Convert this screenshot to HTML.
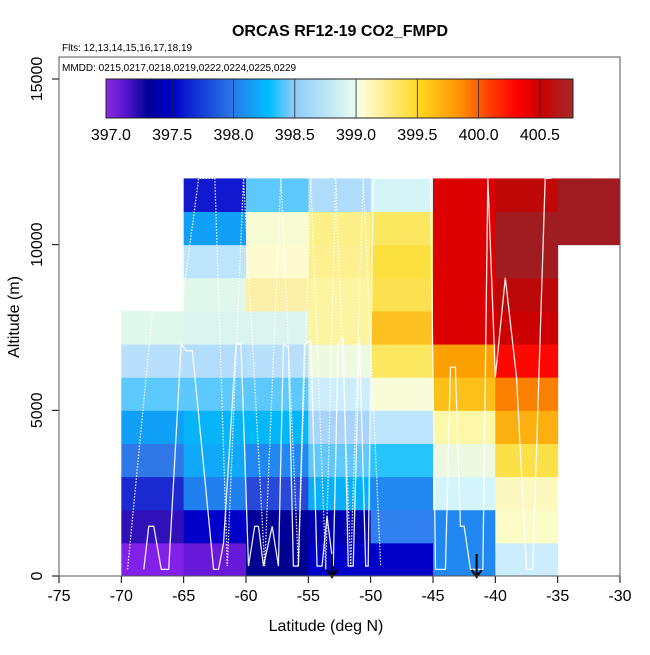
<!DOCTYPE html>
<html><head><meta charset="utf-8"><style>
body{margin:0;background:#fff}
svg text{font-family:"Liberation Sans",sans-serif}
</style></head><body>
<svg id="c" width="650" height="650" xmlns="http://www.w3.org/2000/svg">
<defs>
<linearGradient id="cb" x1="0" x2="1" y1="0" y2="0">
<stop offset="0" stop-color="#8a2be2"/>
<stop offset="0.04" stop-color="#5a18d0"/>
<stop offset="0.09" stop-color="#000098"/>
<stop offset="0.14" stop-color="#0000c8"/>
<stop offset="0.27" stop-color="#2a78e8"/>
<stop offset="0.35" stop-color="#00bfff"/>
<stop offset="0.40" stop-color="#8ccafc"/>
<stop offset="0.53" stop-color="#e4fbf0"/>
<stop offset="0.55" stop-color="#fffcd8"/>
<stop offset="0.67" stop-color="#ffd820"/>
<stop offset="0.76" stop-color="#ff9000"/>
<stop offset="0.82" stop-color="#ff4000"/>
<stop offset="0.88" stop-color="#ff0000"/>
<stop offset="0.93" stop-color="#cc0000"/>
<stop offset="1" stop-color="#a52a2a"/>
</linearGradient>
</defs>
<text x="340" y="36" font-size="16" font-weight="bold" text-anchor="middle">ORCAS RF12-19 CO2_FMPD</text>
<text x="62" y="51" font-size="10">Flts: 12,13,14,15,16,17,18,19</text>
<g id="plot"></g>
<rect x="59" y="57" width="561" height="519" fill="none" stroke="#555"/>
<text x="62" y="71" font-size="10">MMDD: 0215,0217,0218,0219,0222,0224,0225,0229</text>
<rect x="106" y="79" width="467" height="39" fill="url(#cb)" stroke="#222"/>
<g id="cbt"></g>
<text x="326" y="631" font-size="16" text-anchor="middle">Latitude (deg N)</text>
<text transform="translate(19,317) rotate(-90)" font-size="16" text-anchor="middle">Altitude (m)</text>
</svg>
<script>
const lats=[-70,-65,-60,-55,-50,-45,-40,-35];
const altBins=[0,1000,2000,3000,4000,5000,6000,7000,8000,9000,10000,11000];
const cellColors=[
["#8020e8","#3010b8","#1a2ad0","#3078e8","#10a0f8","#5cc8fc","#b8e0fc","#e0f8ec",null,null,null,null],
["#6818d8","#0000c8","#2080f0","#10a8f8","#08b4f8","#5cc8fc","#b4dcfc","#dcf4f0","#e0f8ec","#bce4fc","#10a0f8","#1018d0"],
["#000090","#000098","#2848d8","#2088f0","#00b8f8","#5cc8fc","#b8e0fc","#dcf4f0","#fcf0a8","#fcfcd0","#f8fcd4","#5cc8fc"],
["#0000c8","#0000b0","#08b0f8","#60c8fc","#a8d4fc","#cceefc","#eefae0","#fcf4a0","#fcf4a0","#fcf090","#fcf088","#b0dcfc"],
["#0000c8","#3080f0","#2088f0","#28c4fc","#bce4fc","#f8fcd8","#fce860","#fcc020","#fce050","#fce040","#fce860","#d4f4f8"],
["#2088f0","#2088f0","#d4f4fc","#ecf8e0","#fcf8a8","#fcc018","#fca000","#dc0000","#dc0000","#dc0000","#dc0000","#dc0000"],
["#cceefc","#fcfcc8","#fcf8c0","#fce048","#fcb010","#fc8000","#fc0800","#cc0000","#bc0808","#a01c20","#a01c20","#c00808"],
[null,null,null,null,null,null,null,null,null,null,"#a01c20","#a01c20"]];
const xTicks=[-75,-70,-65,-60,-55,-50,-45,-40,-35,-30];
const yTicks=[0,5000,10000,15000];
const cbTicks=[397.0,397.5,398.0,398.5,399.0,399.5,400.0,400.5];
const trackLat=[-68.2,-67.8,-67.4,-66.8,-66.2,-65.2,-64.8,-64.3,-62.6,-62.2,-61.8,-60.8,-60.4,-59.8,-59.3,-59,-58.6,-57.9,-57.4,-57,-56.6,-56.2,-55.8,-55.3,-54.8,-54.3,-53.9,-53.5,-53,-52.6,-52.2,-51.8,-51.4,-50.9,-50.4,-50.2,-49.8,-47.5,-46,-45.2,-44.8,-44,-43.6,-43.2,-42.8,-42.5,-42,-41.5,-41,-40.6,-40,-39.2,-38.3,-37.5,-37,-36,-35.5];
const trackAlt=[200,1500,1500,200,200,7000,6800,6800,200,200,1000,7000,7000,300,1500,1500,300,1500,300,7000,6900,300,300,7000,7100,300,300,1800,300,7000,7200,300,300,7200,300,300,12000,12000,12000,12000,200,200,6300,6300,1500,1500,200,200,200,12000,6000,9000,6000,200,200,12000,12000];
const track2Lat=[-69.5,-67.5,-65.2,-63.8,-62.5,-61.5,-60.2,-58.5,-57.2,-55.8,-54.8,-53.6,-52.8,-51.6,-50.6,-49.2];
const track2Alt=[200,8000,8000,12000,12000,300,12000,300,12000,300,12000,200,12000,300,12000,300];
const X=v=>59+(v+75)*561/45, Y=a=>576-a*(497/15000), C=v=>106+(v-396.96)*467/3.81;
const NS="http://www.w3.org/2000/svg";
function mk(t,at,p){const e=document.createElementNS(NS,t);for(const k in at)e.setAttribute(k,at[k]);(p||document.getElementById('plot')).appendChild(e);return e;}
lats.forEach((la,i)=>altBins.forEach((al,j)=>{const col=cellColors[i][j];if(!col)return;
 const r=mk('rect',{x:X(la),y:Y(al+1000),width:X(la+5)-X(la)+0.5,height:Y(al)-Y(al+1000)+0.5,fill:col});
 
 }));
function track(la,al,dash,name){const p=mk('polyline',{points:la.map((v,i)=>X(v)+','+Y(al[i])).join(' '),fill:'none',stroke:'#fff','stroke-width':1.3,'stroke-dasharray':dash,opacity:0.9});
 
 }
track(trackLat,trackAlt,'','flight-track');
track(track2Lat,track2Alt,'1.5 1.5','flight-track-dotted');
[-53.1,-41.5].forEach(v=>{const g=mk('path',{d:`M${X(v)} 554 L${X(v)} 577 M${X(v)-5} 570 L${X(v)} 577 L${X(v)+5} 570`,stroke:'#000','stroke-width':2,fill:'none'});
 
 });
const ax=mk('line',{x1:59,x2:620,y1:576,y2:576,stroke:'#000'});


xTicks.forEach(t=>{mk('line',{x1:X(t),x2:X(t),y1:576,y2:583,stroke:'#000'});
 const tx=mk('text',{x:X(t),y:601,'font-size':16,'text-anchor':'middle'});tx.textContent=t;
 
 });
yTicks.forEach(t=>{mk('line',{x1:52,x2:59,y1:Y(t),y2:Y(t),stroke:'#000'});
 const tx=mk('text',{transform:`translate(42,${Y(t)}) rotate(-90)`,'font-size':16,'text-anchor':'middle'});tx.textContent=t;
 
 });
const cbg=document.getElementById('cbt');
cbTicks.forEach(t=>{if(t>397)mk('line',{x1:C(t),x2:C(t),y1:79,y2:118,stroke:'#222','stroke-width':0.8},cbg);
 const tx=mk('text',{x:C(t),y:140,'font-size':16,'text-anchor':'middle'},cbg);tx.textContent=t.toFixed(1);
 
 });
</script>
</body></html>
